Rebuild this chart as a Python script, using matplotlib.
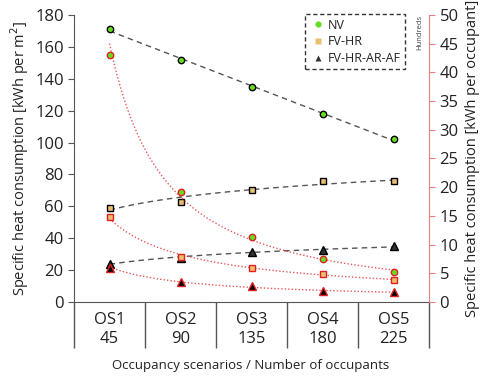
import numpy as np
import matplotlib.pyplot as plt

plt.rcParams['font.family'] = ['Open Sans', 'DejaVu Sans']

scenarios = ["OS1", "OS2", "OS3", "OS4", "OS5"]
occupants = ["45", "90", "135", "180", "225"]

# specific heat consumption per m2 (left axis)
nv_m2 = [171, 152, 135, 118, 102]
fvhr_m2 = [59, 63, 70, 76, 76]
fvhraraf_m2 = [24, 27.5, 31.5, 32.5, 35]

# specific heat consumption per occupant, hundreds (right axis)
nv_occ = [43, 19.2, 11.4, 7.5, 5.2]
fvhr_occ = [14.8, 7.9, 6.0, 4.8, 3.9]
fvhraraf_occ = [6.0, 3.5, 2.7, 1.9, 1.7]

green = "#66dd22"
tan = "#e8c070"
dark = "#333333"
red = "#e02020"

fig = plt.figure(figsize=(4.81, 3.76), dpi=100)
ax = fig.add_axes([0.154, 0.197, 0.738, 0.763])
ax2 = ax.twinx()

x = np.arange(len(scenarios))
xs = np.linspace(0, 4, 100)

# trendlines for per m2 series (linear for NV, logarithmic for the others)
c = np.polyfit(x, nv_m2, 1)
ax.plot(xs, np.polyval(c, xs), color="#555555", lw=1, ls=(0, (4, 3)), zorder=2)
for vals in [fvhr_m2, fvhraraf_m2]:
    c = np.polyfit(np.log(x + 1), vals, 1)
    ax.plot(xs, c[0] * np.log(xs + 1) + c[1], color="#555555", lw=1, ls=(0, (4, 3)), zorder=2)

# power trendlines for per occupant series
for vals in [nv_occ, fvhr_occ, fvhraraf_occ]:
    c = np.polyfit(np.log(x + 1), np.log(vals), 1)
    ax2.plot(xs, np.exp(c[1]) * (xs + 1) ** c[0], color=red, lw=1, ls=(0, (1, 1.5)), alpha=0.75, zorder=2)

ax.plot(x, nv_m2, "o", ms=4.6, mfc=green, mec="black", mew=1, ls="none", zorder=3)
ax.plot(x, fvhr_m2, "s", ms=4.4, mfc=tan, mec="black", mew=1, ls="none", zorder=3)
ax.plot(x, fvhraraf_m2, "^", ms=5.2, mfc=dark, mec="black", mew=1, ls="none", zorder=3)

ax2.plot(x, nv_occ, "o", ms=4.6, mfc=green, mec=red, mew=1, ls="none", zorder=3)
ax2.plot(x, fvhr_occ, "s", ms=4.4, mfc=tan, mec=red, mew=1, ls="none", zorder=3)
ax2.plot(x, fvhraraf_occ, "^", ms=5.2, mfc="black", mec=red, mew=1, ls="none", zorder=3)

# legend handles
h1, = ax.plot([], [], "o", ms=4.5, color=green, mec="none", ls="none", label="NV")
h2, = ax.plot([], [], "s", ms=4.5, color=tan, mec="none", ls="none", label="FV-HR")
h3, = ax.plot([], [], "^", ms=4, color=dark, mec="none", ls="none", label="FV-HR-AR-AF")
leg = ax.legend(handles=[h1, h2, h3], loc="upper right", bbox_to_anchor=(0.932, 1.003),
                borderaxespad=0, fontsize=9, handletextpad=0.15, handlelength=1.3,
                borderpad=0.35, labelspacing=0.3, fancybox=False, framealpha=1)
leg.get_frame().set_edgecolor("#333333")
leg.get_frame().set_linestyle((0, (3, 2)))
leg.get_frame().set_linewidth(1)
for t in leg.get_texts():
    t.set_color("#222222")

ax.set_xlim(-0.5, 4.5)
ax.set_ylim(0, 180)
ax2.set_ylim(0, 50)
ax.set_yticks(range(0, 181, 20))
ax2.set_yticks(range(0, 51, 5))

ax.set_xticks(x)
ax.set_xticklabels([s + "\n" + o for s, o in zip(scenarios, occupants)], linespacing=1.3)
ax.set_xticks(np.arange(-0.5, 5, 1), minor=True)
ax.tick_params(axis="x", which="major", length=0, pad=7, labelsize=12, colors="#222222")
ax.tick_params(axis="x", which="minor", length=33, width=1, color="#555555")
ax.tick_params(axis="y", labelsize=12, length=4, color="#555555", labelcolor="#222222")
ax2.tick_params(axis="y", labelsize=12, length=4, color="#e88080", labelcolor="#222222")

ax.spines["top"].set_visible(False)
ax2.spines["top"].set_visible(False)
ax.spines["right"].set_visible(False)
ax.spines["left"].set_color("#555555")
ax.spines["bottom"].set_color("#555555")
ax2.spines["left"].set_visible(False)
ax2.spines["bottom"].set_visible(False)
ax2.spines["right"].set_color("#e88080")

ax.set_ylabel("Specific heat consumption [kWh per m$^2$]", fontsize=10.5, color="#222222")
ax.yaxis.set_label_coords(-0.121, 0.5)
ax2.set_ylabel("Specific heat consumption [kWh per occupant]", fontsize=10.5, color="#222222")
ax2.yaxis.set_label_coords(1.102, 0.5)
ax.set_xlabel("Occupancy scenarios / Number of occupants", fontsize=9.5, color="#222222", va="center")
ax.xaxis.set_label_coords(0.496, -0.22)

ax2.text(0.975, 0.94, "Hundreds", rotation=90, fontsize=5.5, color="#444444",
         transform=ax2.transAxes, ha="center", va="center")

fig.savefig("out.png", dpi=100)
